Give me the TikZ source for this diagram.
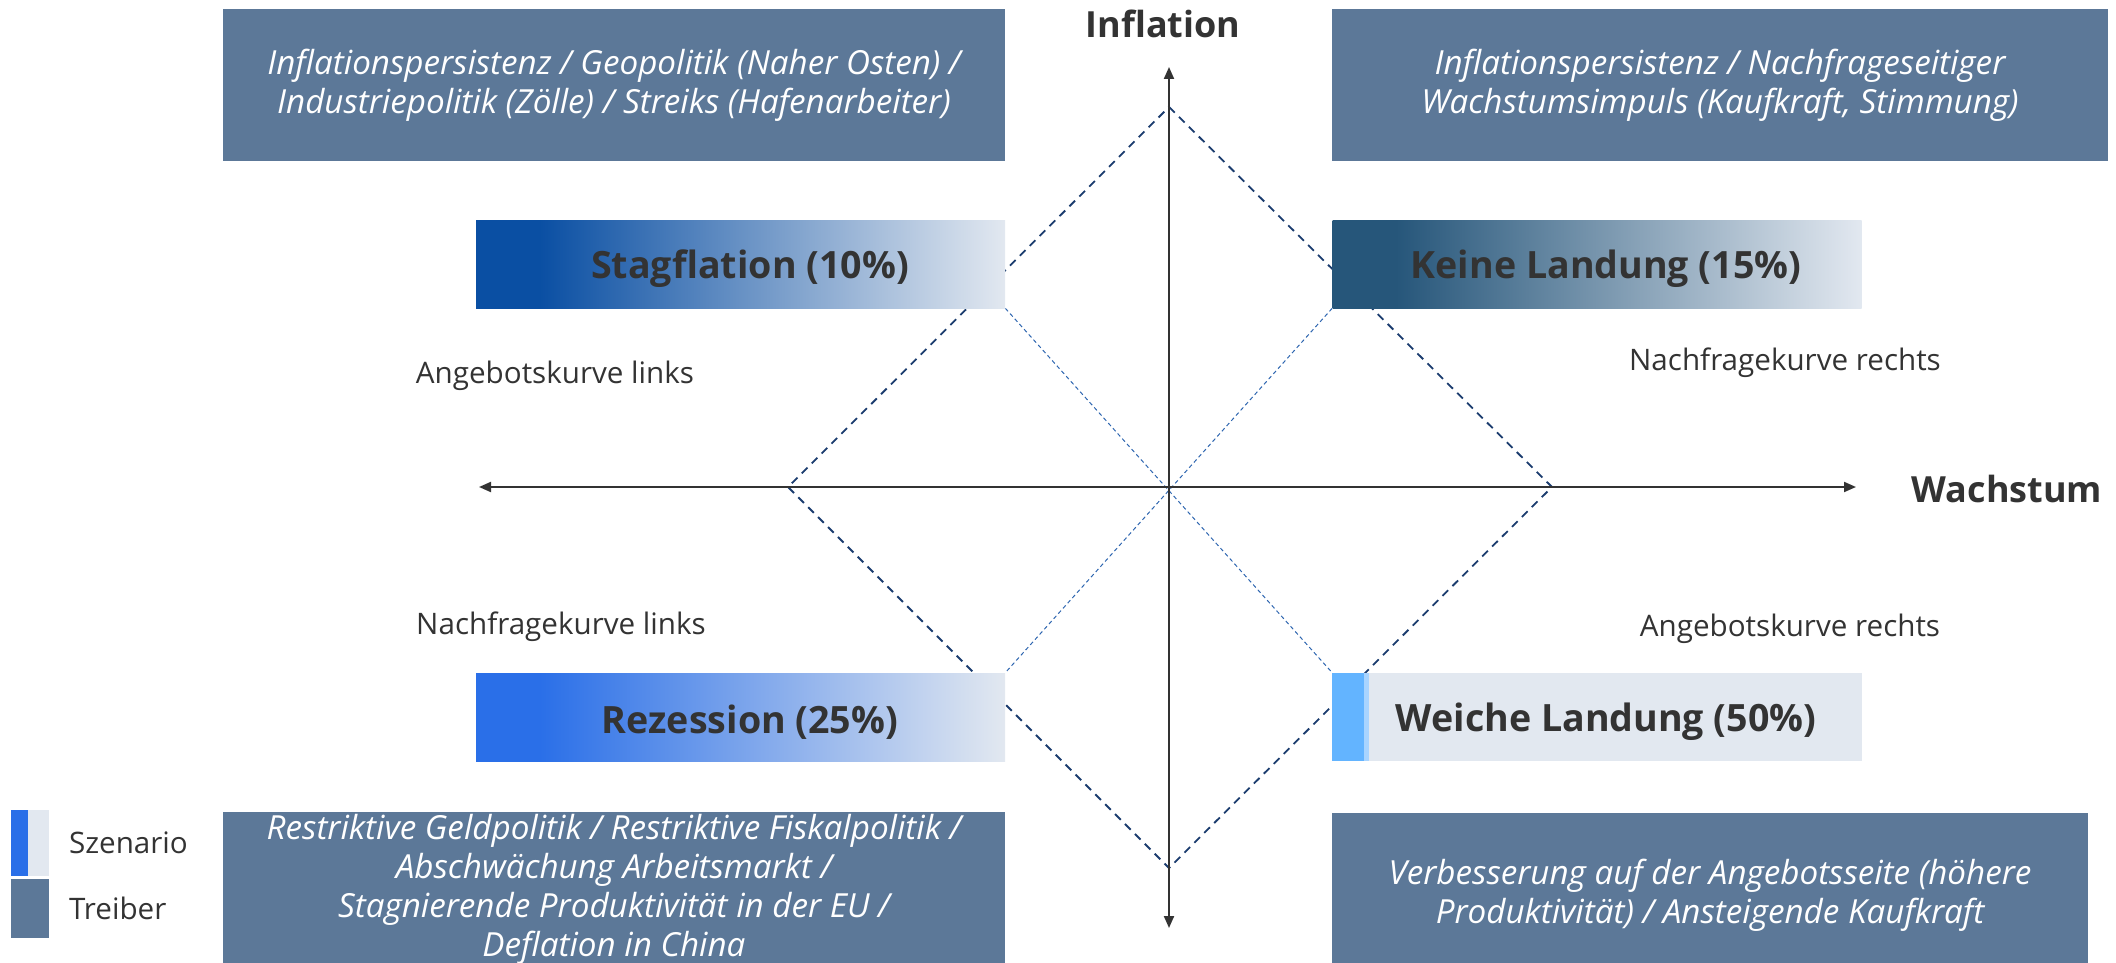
\documentclass[tikz,border=0pt]{standalone}
\usepackage{fontspec}
\setmainfont{Open Sans}
\usetikzlibrary{arrows.meta,backgrounds}

\definecolor{treiberblau}{HTML}{5C7898}
\definecolor{textgrau}{HTML}{333333}
\definecolor{rautenblau}{HTML}{1B3C6E}
\definecolor{kreuzblau}{HTML}{2E66B0}
\definecolor{stagblau}{HTML}{0A4FA3}
\definecolor{keinblau}{HTML}{26567A}
\definecolor{rezblau}{HTML}{2A6FE8}
\definecolor{hell}{HTML}{E2E8F0}
\definecolor{weichblau}{HTML}{63B4FF}
\definecolor{weichhell}{HTML}{A8D4FF}

\pgfdeclarehorizontalshading{stagshade}{100bp}{color(0bp)=(stagblau); color(25bp)=(stagblau); color(31bp)=(stagblau); color(75bp)=(hell); color(100bp)=(hell)}
\pgfdeclarehorizontalshading{keinshade}{100bp}{color(0bp)=(keinblau); color(25bp)=(keinblau); color(31bp)=(keinblau); color(75bp)=(hell); color(100bp)=(hell)}
\pgfdeclarehorizontalshading{rezshade}{100bp}{color(0bp)=(rezblau); color(25bp)=(rezblau); color(31bp)=(rezblau); color(75bp)=(hell); color(100bp)=(hell)}

\begin{document}
\begin{tikzpicture}[x=0.5pt, y=-0.5pt,
  treiber/.style={rectangle, fill=treiberblau, text=white, inner sep=0pt, align=center,
    font=\itshape\fontsize{16.6}{19.5}\selectfont},
  szenario/.style={rectangle, minimum width=264.5pt, minimum height=44pt, inner sep=0pt,
    text=textgrau, font=\bfseries\fontsize{18.8}{21}\selectfont},
  kurve/.style={text=textgrau, font=\fontsize{14.8}{17}\selectfont},
  achsentext/.style={text=textgrau, font=\bfseries\fontsize{18}{21}\selectfont},
  achse/.style={draw=textgrau, line width=1pt, {Triangle[length=6pt,width=5pt]}-{Triangle[length=6pt,width=5pt]}},
  raute/.style={draw=rautenblau, line width=0.9pt, dash pattern=on 4pt off 3pt},
  kreuz/.style={draw=kreuzblau, line width=0.5pt, dash pattern=on 2pt off 1.5pt}]
  \useasboundingbox (0,0) rectangle (2116,963);

  % Treiber
  \node[treiber, minimum width=391pt, minimum height=76pt] (t1) at (614,85)
    {Inflationspersistenz / Geopolitik (Naher Osten) /\\Industriepolitik (Zölle) / Streiks (Hafenarbeiter)};
  \node[treiber, minimum width=388pt, minimum height=76pt] (t2) at (1720,85)
    {Inflationspersistenz / Nachfrageseitiger\\Wachstumsimpuls (Kaufkraft, Stimmung)};
  \node[treiber, minimum width=391pt, minimum height=75.5pt] (t3) at (614,887.5) {};
  \node[treiber, fill=none] (t3t) at (614,889)
    {Restriktive Geldpolitik / Restriktive Fiskalpolitik /\\Abschwächung Arbeitsmarkt /\\Stagnierende Produktivität in der EU /\\Deflation in China};
  \node[treiber, minimum width=378pt, minimum height=75pt] (t4) at (1710,888) {};
  \node[treiber, fill=none] (t4t) at (1710,895)
    {Verbesserung auf der Angebotsseite (höhere\\Produktivität) / Ansteigende Kaufkraft};

  % Szenarien
  \node[szenario, shading=stagshade] (s1) at (740.5,264) {};
  \node[szenario, shading=keinshade] (s2) at (1597,264) {};
  \node[szenario, shading=rezshade] (s3) at (740.5,717) {};
  \node[szenario, fill=hell] (s4) at (1597,717) {};
  \fill[weichblau] (s4.north west) rectangle ([xshift=16pt]s4.south west);
  \fill[weichhell] ([xshift=16pt]s4.north west) rectangle ([xshift=18.5pt]s4.south west);
  \node[szenario, minimum width=0pt] (s1t) at (750,269) {Stagflation (10\%)};
  \node[szenario, minimum width=0pt] (s2t) at (1606,269) {Keine Landung (15\%)};
  \node[szenario, minimum width=0pt] (s3t) at (750,722) {Rezession (25\%)};
  \node[szenario, minimum width=0pt] (s4t) at (1606,722) {Weiche Landung (50\%)};

  % Kurven
  \node[kurve] (al) at (555,376) {Angebotskurve links};
  \node[kurve] (nr) at (1785,363) {Nachfragekurve rechts};
  \node[kurve] (nl) at (561,627) {Nachfragekurve links};
  \node[kurve] (ar) at (1790,629) {Angebotskurve rechts};

  % Raute und Kreuz
  \coordinate (oben) at (1169,107);
  \coordinate (links) at (788,487);
  \coordinate (rechts) at (1552,487);
  \coordinate (unten) at (1169,868);
  \begin{scope}[on background layer]
    \draw[raute] (oben) -- (rechts) -- (unten) -- (links) -- cycle;
    \draw[kreuz] (s1.south east) -- (s4.north west);
    \draw[kreuz] (s2.south west) -- (s3.north east);
  \end{scope}

  % Achsen
  \coordinate (xl) at (479,487);
  \coordinate (xr) at (1856,487);
  \coordinate (yo) at (1169,67);
  \coordinate (yu) at (1169,928);
  \draw[achse] (xl) -- (xr);
  \draw[achse] (yo) -- (yu);
  \node[achsentext] (infl) at (1163,24) {Inflation};
  \node[achsentext] (wachs) at (2007,489) {Wachstum};

  % Legende
  \fill[rezblau] (11,810) rectangle (28,876);
  \fill[hell] (28,810) rectangle (49,876);
  \fill[treiberblau] (11,879) rectangle (49,938);
  \node[kurve, anchor=west] (lsz) at (62,843) {Szenario};
  \node[kurve, anchor=west] (ltr) at (62,908) {Treiber};
\end{tikzpicture}
\end{document}
